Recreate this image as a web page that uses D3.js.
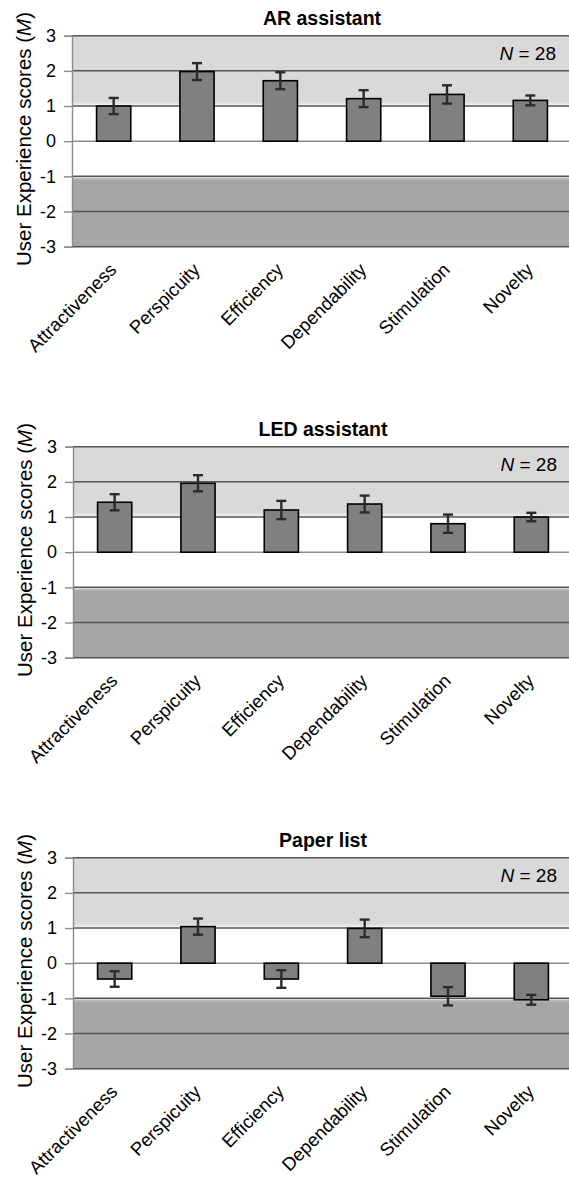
<!DOCTYPE html>
<html>
<head>
<meta charset="utf-8">
<script src="https://cdn.jsdelivr.net/npm/d3@7"></script>
<style>
  body { margin: 0; background: #fff; }
  text { font-family: "Liberation Sans", Arial, sans-serif; }
</style>
</head>
<body>
<script>
var categories = ['Attractiveness', 'Perspicuity', 'Efficiency', 'Dependability', 'Stimulation', 'Novelty'];
var titles = ['AR assistant', 'LED assistant', 'Paper list'];

var arMeans    = [1.00, 1.98, 1.72, 1.21, 1.33, 1.16];
var arErrors   = [0.23, 0.24, 0.24, 0.24, 0.26, 0.14];
var ledMeans   = [1.42, 1.96, 1.20, 1.37, 0.81, 1.00];
var ledErrors  = [0.23, 0.23, 0.26, 0.24, 0.26, 0.12];
var paperMeans = [-0.45, 1.04, -0.45, 0.99, -0.94, -1.04];
var paperErrors= [0.22, 0.23, 0.25, 0.25, 0.26, 0.14];

var yTicks = [-3, -2, -1, 0, 1, 2, 3];
var nLabel = '28';
var upperBand = [1.1, 3];
var lowerBand = [-3, -1.08];

var WIDTH  = 569;
var HEIGHT = 1178;
var PANEL_STEP = 411;

var svg = d3.select('body')
            .append('svg')
            .attr('width', WIDTH)
            .attr('height', HEIGHT);

var defs = svg.append('defs');
var gUp = defs.append('linearGradient').attr('id', 'fadeUp')
              .attr('x1', 0).attr('y1', 0).attr('x2', 0).attr('y2', 1);
gUp.append('stop').attr('offset', 0).attr('stop-color', '#d9d9d9');
gUp.append('stop').attr('offset', 1).attr('stop-color', '#ffffff');
var gDown = defs.append('linearGradient').attr('id', 'fadeDown')
                .attr('x1', 0).attr('y1', 0).attr('x2', 0).attr('y2', 1);
gDown.append('stop').attr('offset', 0).attr('stop-color', '#ffffff');
gDown.append('stop').attr('offset', 1).attr('stop-color', '#a6a6a6');

var x = d3.scaleBand()
          .domain(categories)
          .range([72, 572])
          .paddingInner(0.59)
          .paddingOuter(0.295);

var y = d3.scaleLinear()
          .domain([-3, 3])
          .range([246.7, 35.7]);

var panels = [
  { title: titles[0], means: arMeans, errors: arErrors },
  { title: titles[1], means: ledMeans, errors: ledErrors },
  { title: titles[2], means: paperMeans, errors: paperErrors }
];

panels.forEach(function(p, i) {
    var g = svg.append('g').attr('transform', 'translate(' + (i ? 1 : 0) + ',' + (i * PANEL_STEP) + ')');
    var x0 = x.range()[0], x1 = x.range()[1];

    // background bands
    g.append('rect')
     .attr('x', x0).attr('width', x1 - x0)
     .attr('y', y(upperBand[1])).attr('height', y(upperBand[0]) - y(upperBand[1]))
     .attr('fill', '#d9d9d9');
    g.append('rect')
     .attr('x', x0).attr('width', x1 - x0)
     .attr('y', y(upperBand[0])).attr('height', y(1) - y(upperBand[0]))
     .attr('fill', 'url(#fadeUp)');
    g.append('rect')
     .attr('x', x0).attr('width', x1 - x0)
     .attr('y', y(-1)).attr('height', y(lowerBand[1]) - y(-1))
     .attr('fill', 'url(#fadeDown)');
    g.append('rect')
     .attr('x', x0).attr('width', x1 - x0)
     .attr('y', y(lowerBand[1])).attr('height', y(lowerBand[0]) - y(lowerBand[1]))
     .attr('fill', '#a6a6a6');

    // gridlines
    g.selectAll('.grid')
     .data(yTicks)
     .enter()
     .append('line')
     .attr('x1', x0).attr('x2', x1)
     .attr('y1', y).attr('y2', y)
     .attr('stroke', function(d) { return d === 0 ? '#8c8c8c' : '#555'; })
     .attr('stroke-width', 1.5);

    // left axis
    var axis = g.append('g')
                .attr('transform', 'translate(' + x0 + ',0)')
                .call(d3.axisLeft(y).tickValues(yTicks).tickSize(8).tickPadding(8).tickFormat(d3.format('d')));
    axis.select('.domain').attr('stroke', '#8c8c8c').attr('stroke-width', 1.4);
    axis.selectAll('.tick line').attr('stroke', '#8c8c8c').attr('stroke-width', 1.4);
    axis.selectAll('.tick text')
        .attr('font-size', 18)
        .attr('fill', '#000')
        .style('font-family', '"Liberation Sans", Arial, sans-serif')
        .text(function(d) { return d < 0 ? '-' + Math.abs(d) : d; });

    // bars
    g.selectAll('.bar')
     .data(p.means)
     .enter()
     .append('rect')
     .attr('x', function(d, k) { return x(categories[k]); })
     .attr('width', x.bandwidth())
     .attr('y', function(d) { return y(Math.max(0, d)); })
     .attr('height', function(d) { return Math.abs(y(d) - y(0)); })
     .attr('fill', '#808080')
     .attr('stroke', '#000')
     .attr('stroke-width', 1.6);

    // error bars
    var eb = g.selectAll('.err')
              .data(p.means)
              .enter()
              .append('g')
              .attr('stroke', '#2b2b2b')
              .attr('stroke-width', 2.4);
    eb.append('line')
      .attr('x1', function(d, k) { return x(categories[k]) + x.bandwidth() / 2; })
      .attr('x2', function(d, k) { return x(categories[k]) + x.bandwidth() / 2; })
      .attr('y1', function(d, k) { return y(d + p.errors[k]); })
      .attr('y2', function(d, k) { return y(d - p.errors[k]); });
    [1, -1].forEach(function(s) {
        eb.append('line')
          .attr('x1', function(d, k) { return x(categories[k]) + x.bandwidth() / 2 - 5; })
          .attr('x2', function(d, k) { return x(categories[k]) + x.bandwidth() / 2 + 5; })
          .attr('y1', function(d, k) { return y(d + s * p.errors[k]); })
          .attr('y2', function(d, k) { return y(d + s * p.errors[k]); });
    });

    // category labels
    g.selectAll('.cat')
     .data(categories)
     .enter()
     .append('text')
     .attr('transform', function(d) {
         return 'translate(' + (x(d) + x.bandwidth() / 2 + 4) + ',271) rotate(-45)';
     })
     .attr('text-anchor', 'end')
     .attr('font-size', 18.5)
     .text(function(d) { return d; });

    // title
    g.append('text')
     .attr('x', 322).attr('y', 25)
     .attr('text-anchor', 'middle')
     .attr('font-size', 19.5)
     .attr('font-weight', 'bold')
     .text(p.title);

    // N label
    var nt = g.append('text')
              .attr('x', 556).attr('y', 60)
              .attr('text-anchor', 'end')
              .attr('font-size', 19);
    nt.append('tspan').attr('font-style', 'italic').text('N');
    nt.append('tspan').text(' = ' + nLabel);

    // y axis title
    var yl = g.append('text')
              .attr('transform', 'translate(31,139) rotate(-90)')
              .attr('text-anchor', 'middle')
              .attr('font-size', 20.5);
    yl.append('tspan').text('User Experience scores (');
    yl.append('tspan').attr('font-style', 'italic').text('M');
    yl.append('tspan').text(')');
});
</script>
</body>
</html>
